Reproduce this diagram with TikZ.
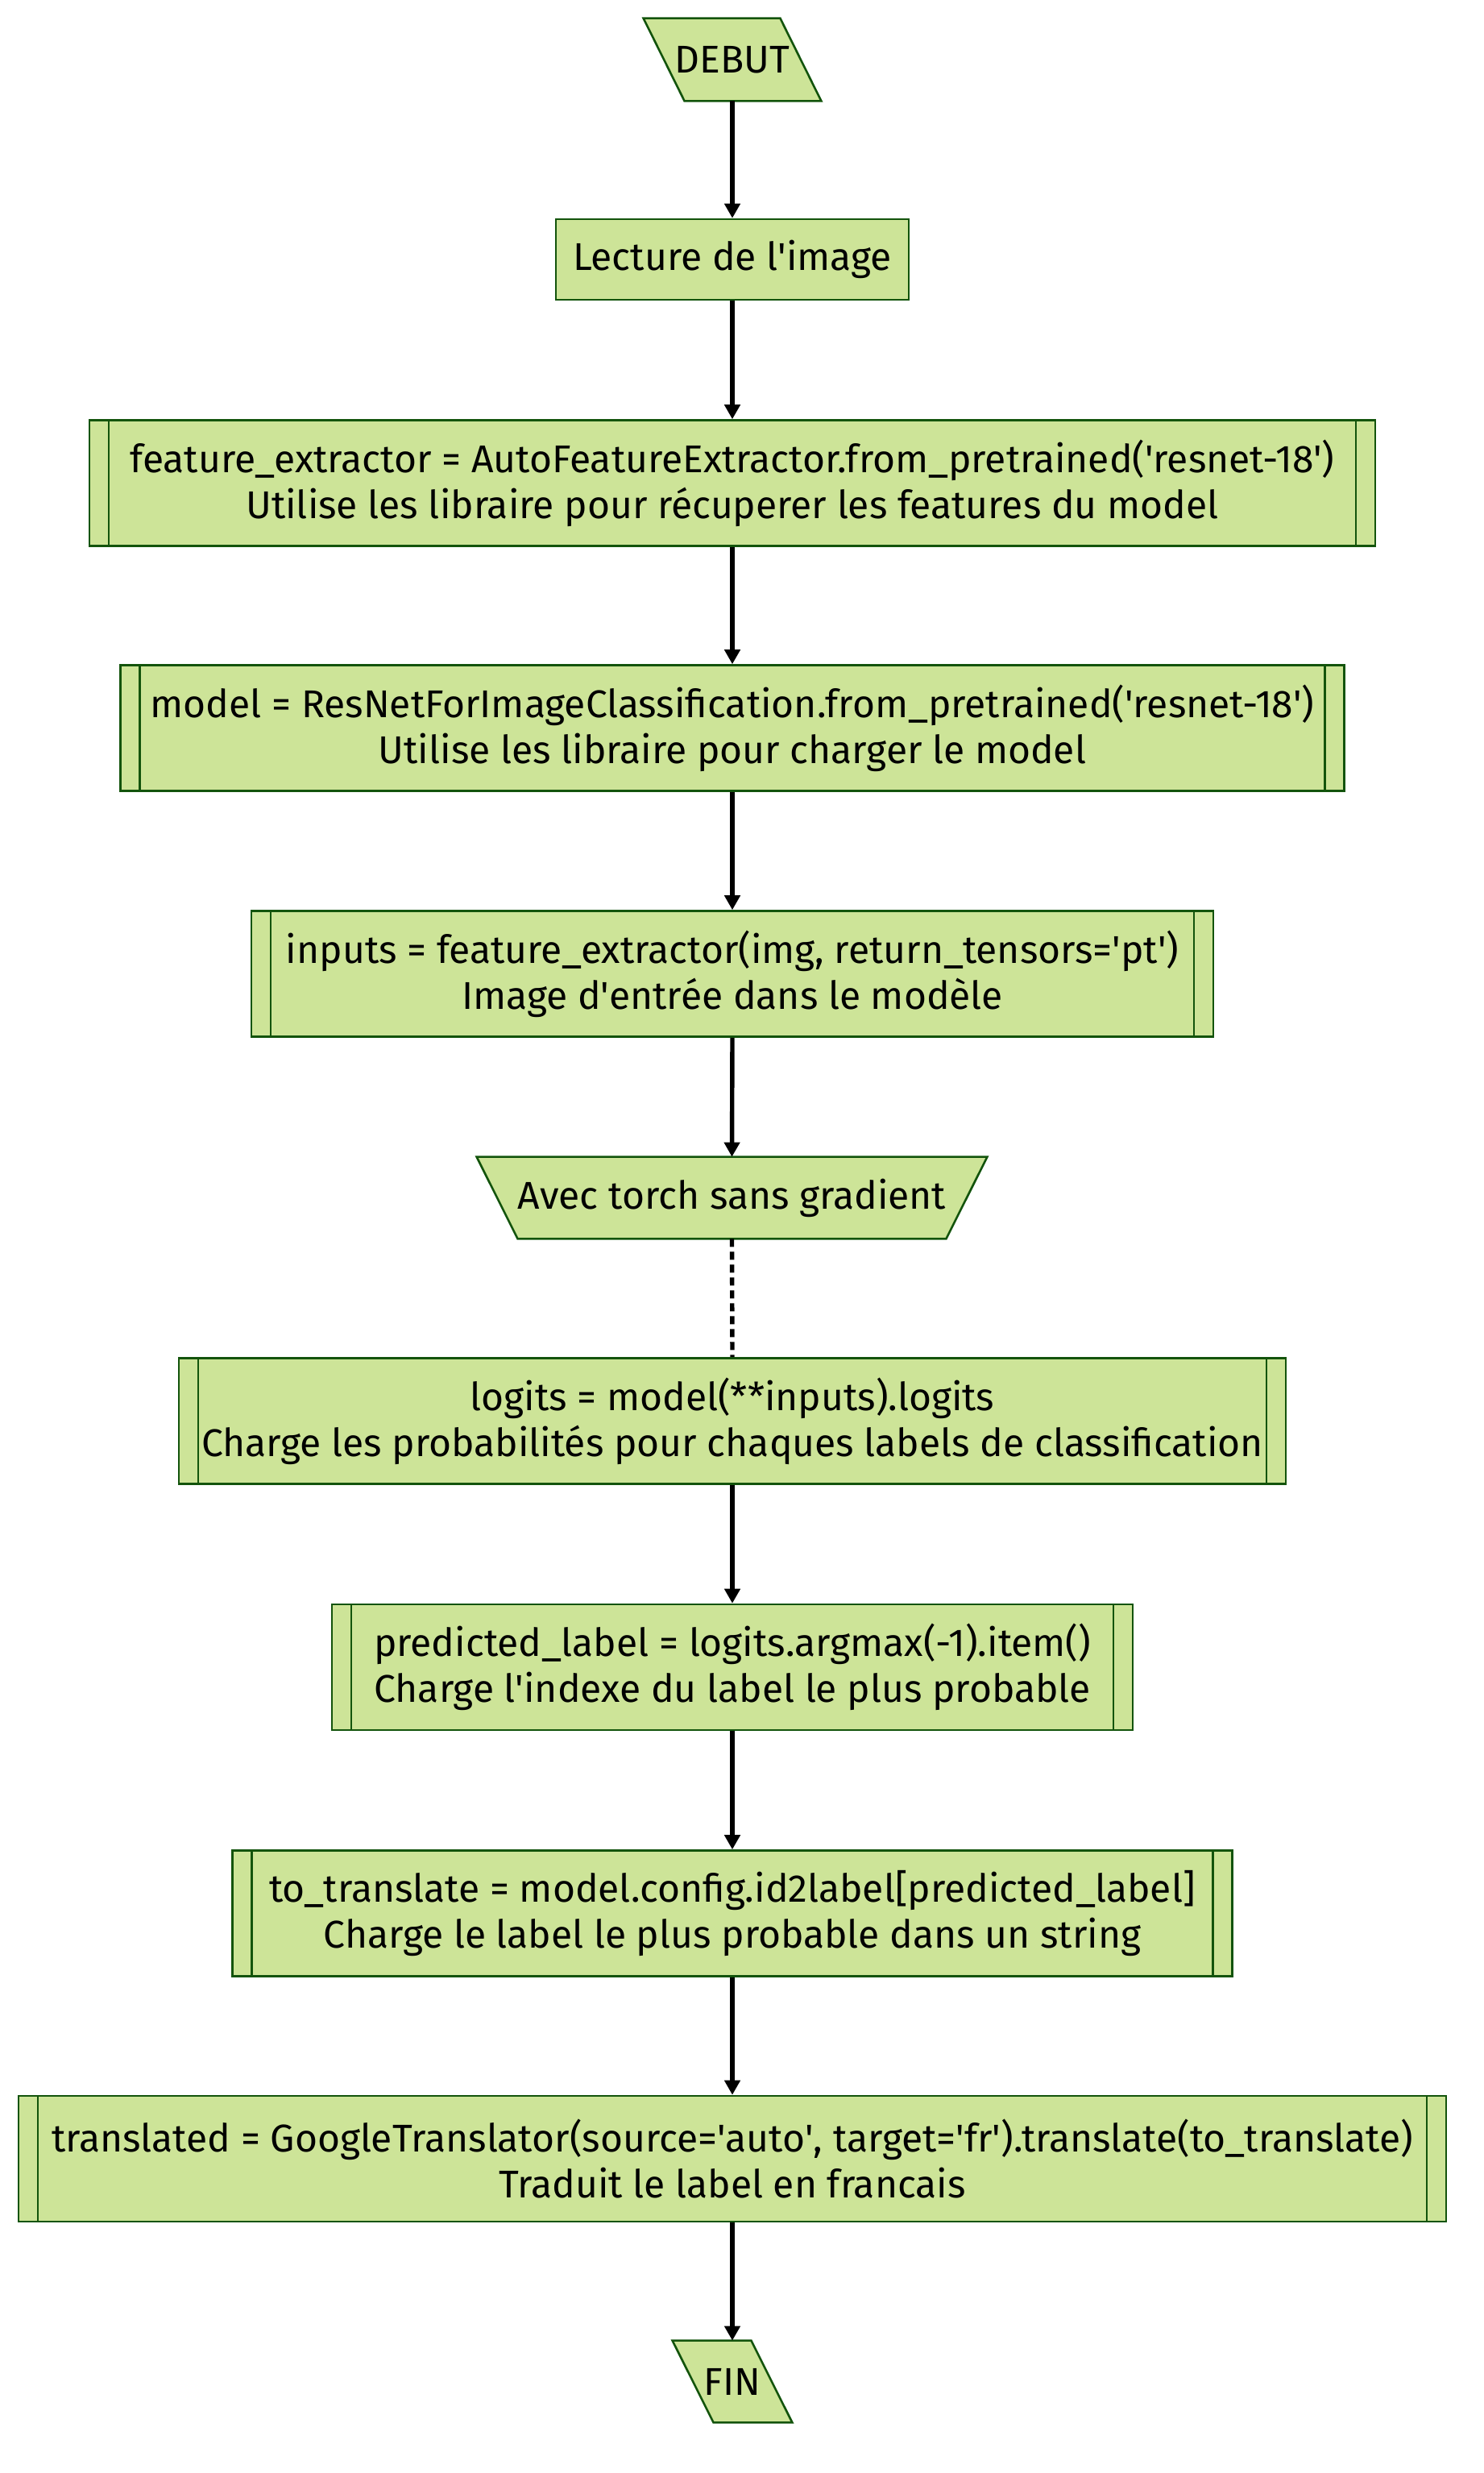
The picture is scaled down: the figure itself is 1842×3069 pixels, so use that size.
\documentclass[tikz,border=0pt]{standalone}
\usepackage{fontspec}
\setmainfont{Fira Sans}
\usetikzlibrary{arrows.meta}
\definecolor{boxfill}{HTML}{CDE498}
\definecolor{boxline}{HTML}{13540C}
\newcommand{\sq}{\textquotesingle}
\begin{document}
\begin{tikzpicture}[x=0.5pt,y=-0.5pt,
  txt/.style={font=\fontsize{24}{28.5}\selectfont, text=black, align=center, inner sep=0pt},
  plainbox/.style={txt, rectangle, draw=boxline, fill=boxfill, line width=1.3pt, minimum height=50pt},
  subbox/.style={txt, rectangle, draw=boxline, fill=boxfill, line width=1.3pt, minimum height=78pt,
    path picture={
      \draw[boxline, line width=1.3pt] ([xshift=12pt]path picture bounding box.north west) -- ([xshift=12pt]path picture bounding box.south west);
      \draw[boxline, line width=1.3pt] ([xshift=-12pt]path picture bounding box.north east) -- ([xshift=-12pt]path picture bounding box.south east);
    }},
  ghost/.style={txt, rectangle, minimum height=51pt},
  shapeline/.style={draw=boxline, fill=boxfill, line width=1.3pt},
  flow/.style={draw=black, line width=2.7pt, -{Triangle[width=9.5pt,length=9pt]}},
  dotflow/.style={draw=black, line width=2.7pt, dash pattern=on 5pt off 3pt}
]
\useasboundingbox (0,0) rectangle (1842,3069);

% DEBUT parallelogram
\node[ghost, minimum width=110pt] (debut) at (909,74) {};
\path[shapeline] (debut.north west) -- ([xshift=-25.5pt]debut.north east) -- (debut.south east) -- ([xshift=25.5pt]debut.south west) -- cycle;
\node[txt] (debuttxt) at (debut.center) {DEBUT};

\node[plainbox, minimum width=219pt] (lecture) at (909,322) {Lecture de l\sq image};

\node[subbox, minimum width=798pt] (fe) at (909,599.5) {feature\_extractor = AutoFeatureExtractor.from\_pretrained(\sq resnet-18\sq)\\Utilise les libraire pour récuperer les features du model};

\node[subbox, minimum width=759.5pt] (model) at (909,903.5) {model = ResNetForImageClassification.from\_pretrained(\sq resnet-18\sq)\\Utilise les libraire pour charger le model};

\node[subbox, minimum width=597pt] (inputs) at (909,1208.5) {inputs = feature\_extractor(img, return\_tensors=\sq pt\sq)\\Image d\sq entrée dans le modèle};

% Avec trapezoid
\node[ghost, minimum width=316.5pt, minimum height=50.5pt] (avec) at (908.5,1486.5) {};
\path[shapeline] (avec.north west) -- (avec.north east) -- ([xshift=-25.5pt]avec.south east) -- ([xshift=25.5pt]avec.south west) -- cycle;
\node[txt] (avectxt) at (avec.center) {Avec torch sans gradient};

\node[subbox, minimum width=687pt] (logits) at (909,1763.5) {logits = model(**inputs).logits\\Charge les probabilités pour chaques labels de classification};

\node[subbox, minimum width=497pt] (pred) at (909,2069) {predicted\_label = logits.argmax(-1).item()\\Charge l\sq indexe du label le plus probable};

\node[subbox, minimum width=620.5pt] (totr) at (909,2374.5) {to\_translate = model.config.id2label[predicted\_label]\\Charge le label le plus probable dans un string};

\node[subbox, minimum width=886pt] (trans) at (909,2679) {translated = GoogleTranslator(source=\sq auto\sq, target=\sq fr\sq).translate(to\_translate)\\Traduit le label en francais};

% FIN parallelogram
\node[ghost, minimum width=74pt, minimum height=50.5pt] (fin) at (909,2955.5) {};
\path[shapeline] (fin.north west) -- ([xshift=-25.5pt]fin.north east) -- (fin.south east) -- ([xshift=25.5pt]fin.south west) -- cycle;
\node[txt] (fintxt) at (fin.center) {FIN};

\draw[flow] (debut.south) -- (lecture.north);
\draw[flow] (lecture.south) -- (fe.north);
\draw[flow] (fe.south) -- (model.north);
\draw[flow] (model.south) -- (inputs.north);
\draw[flow] (inputs.south) -- (avec.north);
\draw[dotflow] (avec.south) -- (logits.north);
\draw[flow] (logits.south) -- (pred.north);
\draw[flow] (pred.south) -- (totr.north);
\draw[flow] (totr.south) -- (trans.north);
\draw[flow] (trans.south) -- (fin.north);
\end{tikzpicture}
\end{document}
